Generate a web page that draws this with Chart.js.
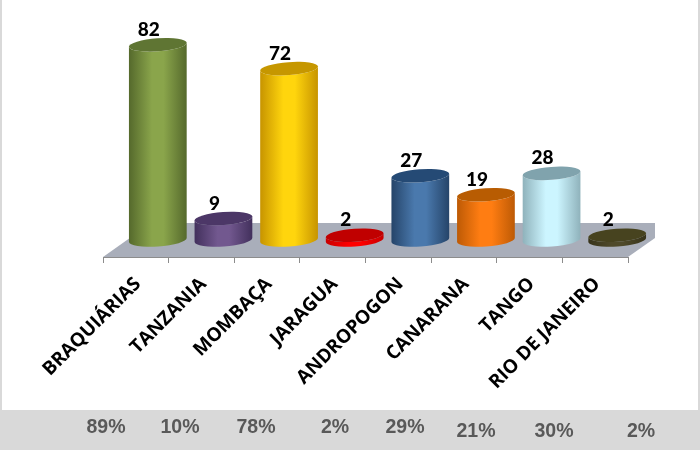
<!DOCTYPE html>
<html>
<head>
<meta charset="utf-8">
<style>
  html, body { margin: 0; padding: 0; background: #fff; }
  #wrap { position: relative; width: 700px; height: 450px; }
</style>
<script src="https://cdn.jsdelivr.net/npm/chart.js@4"></script>
</head>
<body>
<div id="wrap"><canvas id="chart"></canvas></div>
<script>
const categories = ['BRAQUIÁRIAS', 'TANZANIA', 'MOMBAÇA', 'JARAGUA', 'ANDROPOGON', 'CANARANA', 'TANGO', 'RIO DE JANEIRO'];
const values = [82, 9, 72, 2, 27, 19, 28, 2];
const percents = ['89%', '10%', '78%', '2%', '29%', '21%', '30%', '2%'];

// [edge, middle, top cap] for each cylinder
const colors = [
    ['#55692c', '#8aa54b', '#5f7533'],
    ['#42305c', '#72588f', '#4c3767'],
    ['#c79400', '#ffd50d', '#c69700'],
    ['#c80000', '#ff0000', '#c00000'],
    ['#254469', '#4a79ad', '#254a75'],
    ['#bd5a05', '#ff7d12', '#b85c02'],
    ['#8fb2bb', '#ccf5ff', '#80a3ad'],
    ['#37331a', '#4f4a2a', '#47431f']
];

// where the percent row sits in the page
const percentX = [106, 180, 256, 335, 405, 476, 554, 641];
const percentY = [427, 427, 427, 427, 427, 431, 431, 431];

const DEPTH_X = 22;
const DEPTH_Y = 17;
const CAP_RY = 6.5;
const TILT = -0.07;

// gray band, frame and the floor of the 3D plot
const backdrop = {
    id: 'backdrop',
    beforeDraw(chart) {
        const { ctx, width, height } = chart;
        ctx.save();
        ctx.fillStyle = '#d9d9d9';
        ctx.fillRect(0, 410, width, height - 410);
        ctx.fillRect(0, 0, 2, height);
        ctx.fillRect(width - 2, 0, 2, height);
        ctx.restore();
    },
    beforeDatasetsDraw(chart) {
        const { ctx, chartArea: a } = chart;
        ctx.save();
        ctx.fillStyle = '#a9aeba';
        ctx.beginPath();
        ctx.moveTo(a.left, a.bottom);
        ctx.lineTo(a.left + 48, a.bottom - 34);
        ctx.lineTo(a.right + 27, a.bottom - 34);
        ctx.lineTo(a.right + 27, a.bottom - 19);
        ctx.lineTo(a.right, a.bottom);
        ctx.closePath();
        ctx.fill();
        ctx.restore();
    }
};

// draws each bar element as a cylinder, standing on the floor
const cylinders = {
    id: 'cylinders',
    afterDatasetsDraw(chart) {
        const { ctx } = chart;
        const bars = chart.getDatasetMeta(0).data;
        bars.forEach((bar, i) => {
            const cx = bar.x + DEPTH_X;
            const rx = bar.width / 2;
            const top = bar.y - DEPTH_Y;
            const bottom = bar.base - DEPTH_Y;
            const [edge, mid, cap] = colors[i];

            const grad = ctx.createLinearGradient(cx - rx, 0, cx + rx, 0);
            grad.addColorStop(0, edge);
            grad.addColorStop(0.4, mid);
            grad.addColorStop(0.6, mid);
            grad.addColorStop(1, edge);

            ctx.save();
            ctx.fillStyle = grad;
            ctx.beginPath();
            ctx.ellipse(cx, bottom, rx, CAP_RY, TILT, 0, Math.PI);
            ctx.ellipse(cx, top, rx, CAP_RY, TILT, Math.PI, 0, true);
            ctx.closePath();
            ctx.fill();

            ctx.fillStyle = cap;
            ctx.beginPath();
            ctx.ellipse(cx, top, rx, CAP_RY, TILT, 0, Math.PI * 2);
            ctx.fill();

            // value above the cap
            ctx.fillStyle = '#000';
            ctx.font = '900 19px Lato';
            ctx.textAlign = 'center';
            ctx.textBaseline = 'middle';
            ctx.fillText(values[i], cx - 9, top - 15);
            ctx.restore();
        });
    }
};

// the labels are a little narrow in the reference, so squeeze the sans sideways
const percentRow = {
    id: 'percentRow',
    afterDraw(chart) {
        const { ctx } = chart;
        ctx.fillStyle = '#595959';
        ctx.font = 'bold 21px "Liberation Sans"';
        ctx.textAlign = 'center';
        ctx.textBaseline = 'middle';
        percents.forEach((p, i) => {
            ctx.save();
            ctx.translate(percentX[i], percentY[i]);
            ctx.scale(0.93, 1);
            ctx.fillText(p, 0, 0);
            ctx.restore();
        });
    }
};

new Chart(document.getElementById('chart'), {
    type: 'bar',
    data: {
        labels: categories,
        datasets: [{
            data: values,
            backgroundColor: 'transparent',
            barPercentage: 0.882,
            categoryPercentage: 1
        }]
    },
    options: {
        responsive: true,
        maintainAspectRatio: false,
        animation: false,
        layout: { padding: { left: 103, right: 72, top: 19, bottom: 0 } },
        plugins: { legend: { display: false }, tooltip: { enabled: false } },
        scales: {
            x: {
                afterFit(scale) { scale.height = 193; },
                grid: { drawOnChartArea: false, color: '#8c8c8c', tickLength: 6 },
                border: { color: '#8c8c8c' },
                ticks: {
                    color: '#000',
                    font: { family: 'Open Sans', size: 19, weight: 'bold' },
                    minRotation: 45,
                    maxRotation: 45,
                    autoSkip: false,
                    padding: 10,
                    labelOffset: 2
                }
            },
            y: { display: false, min: 0, max: 100 }
        }
    },
    plugins: [backdrop, cylinders, percentRow]
});
</script>
</body>
</html>
